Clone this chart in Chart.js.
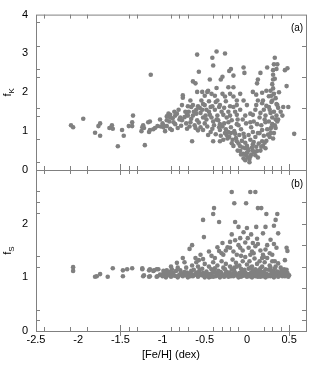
<!DOCTYPE html>
<html>
<head>
<meta charset="utf-8">
<script src="https://cdn.jsdelivr.net/npm/chart.js@4.4.1/dist/chart.umd.min.js"></script>
<style>
  html, body { margin: 0; padding: 0; background: #fff; }
  #wrap { position: relative; width: 311px; height: 366px; }
  canvas { position: absolute; left: 0; top: 0; }
</style>
</head>
<body>
<div id="wrap">
  <canvas id="chartA" width="311" height="366"></canvas>
  <canvas id="chartB" width="311" height="366"></canvas>
</div>
<script>
/************ DATA ************/
// panel (a): [Fe/H], f_K
const pointsA = [
  [-2.085,1.15],[-2.06,1.10],[-1.94,1.32],[-1.80,0.96],[-1.76,1.13],[-1.74,1.20],[-1.74,0.88],
  [-1.63,1.08],[-1.60,1.15],[-1.59,1.06],[-1.53,0.61],[-1.48,1.03],[-1.46,0.88],[-1.40,1.13],
  [-1.36,1.23],[-1.35,1.40],[-1.36,1.13],[-1.25,1.00],[-1.23,1.15],[-1.22,1.08],[-1.21,0.64],
  [-1.15,1.25],[-1.16,0.98],[-1.14,2.45],[-1.11,1.05],[-1.09,1.08],[-1.06,1.13],
  [-1.24,1.10],[-1.17,1.23],[-1.15,1.03],[-0.99,1.15],[-0.95,1.13],[-0.91,1.35],[-0.89,1.03],[-0.93,1.45],
  [-0.59,2.97],[-0.36,3.05],[-0.41,2.89],[-0.26,3.00],[-0.40,2.69],[-0.57,2.53],[-0.19,2.60],
  [-0.21,2.55],[-0.04,2.64],[-0.03,2.50],[0.33,2.89],[0.32,2.72],[0.36,2.72],[0.24,2.64],
  [0.48,2.62],[0.45,2.57],[0.31,2.57],[0.16,2.50],[0.31,2.45],[-0.64,2.28],[-0.61,2.23],
  [-0.44,2.33],[-0.31,2.33],[-0.29,2.40],[-0.16,2.43],[0.13,2.33],[0.12,2.23],[0.31,2.33],
  [0.30,2.21],[0.47,2.16],[-0.46,2.04],[-0.36,2.11],[-0.22,2.13],[-0.16,2.13],
  [-0.76,1.92],[-0.59,2.01],[-0.53,2.01],[-0.47,2.01],[-0.50,1.91],[-0.42,1.96],[-0.38,1.91],
  [-0.29,1.96],[-0.26,1.89],[-0.20,1.96],[-0.16,1.89],[-0.08,1.96],[0.07,2.01],[0.11,1.94],
  [0.18,1.99],[0.23,2.04],[0.28,2.04],[0.29,1.91],[0.32,1.96],
  [-0.76,1.86],[-0.67,1.79],[-0.54,1.79],[-0.45,1.77],[-0.35,1.79],[-0.25,1.77],[-0.12,1.79],
  [-0.04,1.79],[0.13,1.79],[0.19,1.79],[0.30,1.79],
  [-0.77,1.67],[-0.70,1.64],[-0.64,1.67],[-0.58,1.64],[-0.50,1.67],[-0.41,1.64],[-0.32,1.67],
  [-0.20,1.64],[-0.12,1.67],[0.00,1.67],[0.11,1.67],[0.18,1.72],[0.26,1.62],[0.36,1.67],
  [0.43,1.62],[0.49,1.62],
  [-0.91,1.42],[-0.85,1.40],[-0.79,1.35],[-0.71,1.42],[-0.64,1.40],[-0.55,1.47],[-0.52,1.35],
  [-0.44,1.42],[-0.35,1.40],[-0.28,1.42],[-0.20,1.40],[-0.12,1.42],[-0.02,1.40],[0.07,1.42],
  [0.16,1.47],[0.22,1.40],[0.28,1.47],[0.35,1.40],[0.37,1.30],
  [-1.03,1.30],[-0.95,1.28],[-0.87,1.23],[-0.77,1.28],[-0.67,1.23],[-0.59,1.28],[-0.50,1.20],
  [-0.40,1.25],[-0.32,1.18],[-0.22,1.23],[-0.12,1.18],[0.04,1.23],[0.12,1.18],[0.22,1.23],
  [0.30,1.18],[0.56,0.93],
  [-0.99,1.10],[-0.91,1.06],[-0.82,1.08],[-0.71,1.06],[-0.61,1.08],[-0.52,1.03],[-0.41,1.06],
  [-0.32,1.03],[-0.22,0.98],[-0.14,0.93],[-0.04,0.93],[0.07,0.98],[0.18,1.03],[0.28,1.06],[0.34,1.08],
  [-0.65,0.74],[-0.40,0.74],[-0.32,0.74],[-0.23,0.81],[-0.18,0.69],[-0.12,0.74],[-0.08,0.61],
  [-0.02,0.56],[0.00,0.44],[0.01,0.32],[0.03,0.20],[-0.04,0.42],[-0.08,0.49],[0.07,0.66],
  [0.12,0.49],[0.13,0.32],[0.18,0.74],[0.04,0.78],[0.22,0.56],[0.25,0.91],[0.31,0.81],
  [-0.95,1.38],[-0.88,1.33],[-0.83,1.45],[-0.80,1.30],[-0.74,1.36],[-0.72,1.20],[-0.69,1.50],
  [-0.66,1.32],[-0.62,1.15],[-0.60,1.45],[-0.57,1.22],[-0.55,1.10],[-0.53,1.55],[-0.48,1.30],
  [-0.47,1.12],[-0.45,1.50],[-0.43,0.98],[-0.42,1.35],[-0.39,1.15],[-0.38,1.55],[-0.37,0.92],
  [-0.34,1.28],[-0.33,1.10],[-0.31,0.88],[-0.30,1.50],[-0.27,1.20],[-0.26,0.95],[-0.25,1.05],
  [-0.24,1.35],[-0.21,0.85],[-0.19,1.10],[-0.18,1.28],[-0.17,0.78],[-0.15,1.00],[-0.14,1.50],
  [-0.13,0.82],[-0.11,1.30],[-0.10,0.68],[-0.09,0.90],[-0.07,1.05],[-0.06,0.75],[-0.05,0.58],
  [-0.03,0.85],[-0.02,0.70],[-0.01,0.38],[0.00,0.62],[0.02,0.50],[0.02,0.90],[0.03,0.28],
  [0.05,0.40],[0.05,1.10],[0.06,0.58],[0.08,0.72],[0.09,0.45],[0.10,0.85],[0.11,0.60],
  [0.14,0.68],[0.15,0.95],[0.16,0.50],[0.17,1.15],[0.19,0.62],[0.20,0.88],[0.21,1.30],
  [0.23,0.75],[0.24,1.05],[0.26,1.25],[0.27,1.55],[0.28,0.95],[0.29,1.75],[0.30,1.35],
  [0.31,2.10],[0.32,1.50],[0.33,1.15],[0.33,2.35],[0.34,1.85],[0.35,2.60],[0.36,1.25],
  [0.37,1.60],[0.38,2.00],[0.40,1.50],[0.42,1.40],[0.26,1.90],[0.23,1.65],[0.20,1.55],
  [0.15,1.35],[0.10,1.55],[0.08,1.25],[0.04,1.45],[-0.01,1.20],[-0.05,1.30],[-0.08,1.55],
  [-0.10,1.15],[-0.16,1.62],[-0.22,1.50],[-0.27,1.60],[-0.33,1.62],[-0.37,1.75],[-0.43,1.62],
  [-0.48,1.55],[-0.52,1.70],[-0.56,1.60],[-0.60,1.55],[-0.63,1.50],[-0.66,1.62],[-0.70,1.40],
  [-0.73,1.50],[-0.81,1.55],[-0.86,1.50],[-0.92,1.25],[-1.00,1.20],[-0.97,1.00],[-1.02,1.12],
  [-0.85,1.18],[-0.78,1.14],[-0.68,1.12],[-0.58,1.02],[-0.49,1.40],[-0.46,0.90],[-0.36,1.30],
  [-0.29,1.12],[-0.28,0.78],[-0.24,0.90],[-0.19,0.95],[-0.16,0.62],[-0.11,0.50],[-0.07,0.40],
  [-0.04,0.30],[-0.02,0.25],[0.01,0.55],[0.04,0.35],[0.07,0.50],[0.10,0.38],[0.13,0.95],
  [0.17,0.60],[0.21,0.70],[0.27,0.85],[0.29,1.10],[0.32,0.95],[0.34,1.30],[0.35,1.70]
];

// panel (b): [Fe/H], f_S
const pointsB = [
  [-2.06,1.19],[-2.06,1.12],[-1.80,1.01],[-1.78,1.02],[-1.74,1.06],[-1.65,1.01],[-1.59,1.17],
  [-1.47,1.02],[-1.47,1.13],[-1.42,1.15],[-1.36,1.17],[-1.24,1.15],[-1.23,1.02],[-1.16,1.13],
  [-1.15,1.02],[-1.11,1.12],[-1.07,1.15],[-1.07,1.01],
  [-0.18,2.59],[0.04,2.59],[0.10,2.59],[-0.15,2.38],[-0.01,2.38],[0.13,2.29],[0.17,2.29],
  [-0.39,2.29],[-0.40,2.18],[0.23,2.18],[0.36,2.18],[-0.52,2.07],[-0.33,2.03],[-0.14,2.03],
  [0.34,2.07],[-0.10,1.94],[0.00,1.92],[0.11,1.94],[0.22,1.94],[0.32,1.96],[-0.04,1.84],
  [0.37,1.82],[-0.51,1.75],[-0.08,1.73],[0.01,1.73],[0.19,1.82],[-0.20,1.66],[-0.14,1.69],
  [-0.29,1.64],[0.07,1.64],[0.13,1.62],[0.24,1.60],[0.32,1.62],[-0.65,1.60],[-0.68,1.53],
  [-0.35,1.56],[-0.23,1.56],[-0.08,1.55],[0.47,1.55],[0.48,1.49],[-0.76,1.36],[-0.28,1.42],
  [-0.12,1.42],[0.04,1.42],[0.19,1.42],[0.30,1.42],[0.45,1.32],
  [-0.74,1.28],[-0.83,1.27],[-0.61,1.36],[-0.57,1.32],[-0.52,1.34],[-0.42,1.40],[-0.38,1.36],
  [-0.33,1.49],[0.18,1.36],[0.33,1.30],[0.44,1.15],
  [-1.24,1.17],[-1.15,1.15],[-1.10,1.13],[-1.05,1.15],[-0.99,1.12],[-0.95,1.10],[-0.89,1.15],
  [-1.22,1.04],[-1.16,1.01],[-1.06,1.02],
  [-1.03,1.05],[-1.00,1.02],[-0.98,1.08],[-0.96,1.00],[-0.94,1.04],[-0.92,1.10],[-0.90,1.01],
  [-0.88,1.06],[-0.86,1.03],[-0.84,1.12],[-0.82,1.00],[-0.80,1.05],[-0.78,1.08],[-0.76,1.02],
  [-0.74,1.10],[-0.72,1.04],[-0.70,1.00],[-0.68,1.07],[-0.66,1.12],[-0.64,1.02],[-0.62,1.05],
  [-0.60,1.09],[-0.58,1.01],[-0.56,1.14],[-0.54,1.04],[-0.52,1.08],[-0.50,1.00],[-0.48,1.11],
  [-0.46,1.03],[-0.44,1.06],[-0.42,1.15],[-0.40,1.01],[-0.38,1.09],[-0.36,1.04],[-0.34,1.12],
  [-0.32,1.00],[-0.30,1.07],[-0.28,1.18],[-0.26,1.03],[-0.24,1.10],[-0.22,1.01],[-0.20,1.06],
  [-0.18,1.14],[-0.16,1.02],[-0.14,1.08],[-0.12,1.20],[-0.10,1.00],[-0.08,1.05],[-0.06,1.12],
  [-0.04,1.03],[-0.02,1.09],[0.00,1.01],[0.02,1.16],[0.04,1.04],[0.06,1.00],[0.08,1.10],
  [0.10,1.02],[0.12,1.07],[0.14,1.13],[0.16,1.01],[0.18,1.05],[0.20,1.10],[0.22,1.00],
  [0.24,1.04],[0.26,1.14],[0.28,1.02],[0.30,1.08],[0.32,1.00],[0.34,1.05],[0.36,1.11],
  [0.38,1.03],[0.40,1.07],[0.42,1.02],[0.44,1.10],[0.46,1.05],[0.48,1.08],[0.50,1.04],[0.47,1.14],
  [-0.99,1.07],[-0.95,1.13],[-0.91,1.04],[-0.87,1.09],[-0.83,1.02],[-0.79,1.13],[-0.75,1.05],
  [-0.71,1.09],[-0.67,1.02],[-0.63,1.14],[-0.59,1.04],[-0.55,1.07],[-0.51,1.03],[-0.47,1.06],
  [-0.43,1.01],[-0.39,1.13],[-0.35,1.07],[-0.31,1.10],[-0.27,1.01],[-0.23,1.05],[-0.19,1.02],
  [-0.15,1.12],[-0.11,1.05],[-0.07,1.01],[-0.03,1.14],[0.01,1.06],[0.05,1.09],[0.09,1.05],
  [0.13,1.01],[0.17,1.10],[0.21,1.05],[0.25,1.02],[0.29,1.12],[0.33,1.08],[0.37,1.01],
  [0.41,1.12],[0.45,1.02],
  [-0.45,1.00],[-0.33,1.03],[-0.25,1.08],[-0.13,1.04],[-0.05,1.07],[0.03,1.02],[0.07,1.13],
  [0.11,1.08],[0.15,1.04],[0.19,1.02],[0.23,1.07],[0.27,1.05],[0.31,1.03],[0.35,1.09],[0.39,1.05],
  [-0.72,1.18],[-0.65,1.22],[-0.58,1.20],[-0.50,1.25],[-0.45,1.20],[-0.40,1.28],[-0.35,1.22],
  [-0.30,1.30],[-0.25,1.25],[-0.20,1.20],[-0.17,1.33],[-0.13,1.27],[-0.09,1.22],[-0.05,1.30],
  [-0.02,1.38],[0.00,1.24],[0.03,1.30],[0.06,1.20],[0.09,1.35],[0.12,1.25],[0.15,1.30],
  [0.18,1.20],[0.21,1.28],[0.24,1.36],[0.27,1.22],[0.30,1.30],[0.34,1.20],[0.37,1.26],
  [0.40,1.18],[-0.60,1.28],[-0.82,1.18],[-0.90,1.20],
  [-0.25,1.50],[-0.20,1.55],[-0.16,1.48],[-0.10,1.60],[-0.05,1.50],[0.02,1.55],[0.06,1.48],
  [0.10,1.58],[0.16,1.50],[0.22,1.52],[0.27,1.45],[0.35,1.55],[-0.30,1.45],[-0.45,1.48],
  [-0.55,1.42],[0.12,1.72],[-0.02,1.65],[0.28,1.70],[-0.18,1.80],[0.05,1.80],
  [-0.97,1.04],[-0.89,1.08],[-0.81,1.03],[-0.73,1.07],[-0.65,1.05],[-0.57,1.10],[-0.49,1.05],
  [-0.41,1.08],[-0.37,1.02],[-0.29,1.04],[-0.21,1.09],[-0.17,1.06],[-0.09,1.08],[-0.01,1.04],
  [0.07,1.06],[0.15,1.09],[0.23,1.03],[0.31,1.11],[0.39,1.09],[0.43,1.06],[0.49,1.01],
  [-0.15,1.18],[-0.07,1.16],[0.04,1.18],[0.10,1.15],[0.16,1.17],[0.22,1.15],[0.28,1.18],
  [0.33,1.16],[-0.26,1.15],[-0.38,1.17],[-0.53,1.16],[0.08,1.45],[0.20,1.38],[-0.07,1.40]
];

/************ AXES ************/
const xTickLabels = [-2.5, -2, -1.5, -1, -0.5, 0, 0.5];
const yTickLabelsA = [0, 1, 2, 3, 4];
const yTickLabelsB = [0, 1, 2];

// small inward tick marks on the frames
const xMinorTicks = [-2.4, -2.1, -1.9, -1.4, -1.3, -0.9, -0.8, -0.7, -0.4, -0.3, -0.2, -0.1, 0.2, 0.3, 0.4];
const xLongTicks = [-1.5, 0.5];
const yTicksLeftA = [0.2, 0.8, 1.4, 1.6, 2.4, 2.6, 3.2, 3.8];
const yTicksRightA = [0.8, 1.6, 2.4, 3.2];
const yTicksLeftB = [0.2, 0.4, 1.2, 1.4, 2.2, 2.4, 2.6];
const yTicksRightB = [0.2, 0.4, 0.8, 1.2, 1.6, 2.0, 2.4];

const FONT = '"Liberation Sans", Arial, sans-serif';
const GREY = '#808080';

/************ FRAME PLUGIN ************/
const framePlugin = {
  id: 'frame',
  afterDraw(chart, args, o) {
    const { ctx, chartArea: a } = chart;
    const x = chart.scales.x, y = chart.scales.y;
    ctx.save();
    ctx.strokeStyle = GREY;
    ctx.lineWidth = 1;
    ctx.strokeRect(a.left + 0.5, a.top + 0.5, a.width, a.height);

    ctx.beginPath();
    xMinorTicks.forEach(v => {
      const px = Math.round(x.getPixelForValue(v)) + 0.5;
      ctx.moveTo(px, a.bottom); ctx.lineTo(px, a.bottom - 4);
      ctx.moveTo(px, a.top); ctx.lineTo(px, a.top + 4);
    });
    xLongTicks.forEach(v => {
      const px = Math.round(x.getPixelForValue(v)) + 0.5;
      ctx.moveTo(px, a.bottom + 5); ctx.lineTo(px, a.bottom - 6);
    });
    o.left.forEach(v => {
      const py = Math.round(y.getPixelForValue(v)) + 0.5;
      ctx.moveTo(a.left, py); ctx.lineTo(a.left + 4, py);
    });
    o.right.forEach(v => {
      const py = Math.round(y.getPixelForValue(v)) + 0.5;
      ctx.moveTo(a.right, py); ctx.lineTo(a.right - 4, py);
    });
    ctx.stroke();

    // panel tag
    ctx.fillStyle = '#000';
    ctx.font = '10px ' + FONT;
    ctx.textAlign = 'center';
    ctx.textBaseline = 'middle';
    ctx.fillText(o.tag, a.right - 9, a.top + 14);

    // rotated y title with subscript
    ctx.translate(9, (a.top + a.bottom) / 2);
    ctx.rotate(-Math.PI / 2);
    ctx.font = '11px ' + FONT;
    const w1 = ctx.measureText(o.main).width;
    ctx.font = '8px ' + FONT;
    const w2 = ctx.measureText(o.sub).width;
    const start = -(w1 + w2) / 2;
    ctx.textAlign = 'left';
    ctx.font = '11px ' + FONT;
    ctx.fillText(o.main, start, -1);
    ctx.font = '8px ' + FONT;
    ctx.fillText(o.sub, start + w1, 3);
    ctx.restore();
  }
};

/************ CHART SETUP ************/
function makeChart(id, points, yMax, yLabels, padTop, padBottom, showX, frameOpts) {
  return new Chart(document.getElementById(id), {
    type: 'scatter',
    data: {
      datasets: [{
        data: points.map(p => ({ x: p[0], y: p[1] })),
        backgroundColor: GREY,
        borderWidth: 0,
        pointRadius: 2.3,
        pointHoverRadius: 2.3
      }]
    },
    options: {
      responsive: false,
      animation: false,
      events: [],
      layout: { padding: { top: padTop, bottom: padBottom, left: 0, right: 5 } },
      plugins: { legend: { display: false }, tooltip: { enabled: false }, frame: frameOpts },
      scales: {
        x: {
          type: 'linear',
          min: -2.5,
          max: 0.7,
          display: showX,
          grid: { display: false, drawTicks: false },
          border: { display: false },
          afterBuildTicks: s => { s.ticks = xTickLabels.map(v => ({ value: v })); },
          afterFit: s => { if (showX) s.height = 35; },
          ticks: {
            padding: 2,
            color: '#000',
            font: { family: FONT, size: 11 },
            maxRotation: 0,
            callback: v => String(v)
          },
          title: {
            display: showX,
            text: '[Fe/H] (dex)',
            color: '#000',
            font: { family: FONT, size: 11 },
            padding: { top: 0, bottom: 4 }
          }
        },
        y: {
          type: 'linear',
          min: 0,
          max: yMax,
          grid: { display: false, drawTicks: false },
          border: { display: false },
          afterBuildTicks: s => { s.ticks = yLabels.map(v => ({ value: v })); },
          afterFit: s => { s.width = 36; },
          ticks: {
            padding: 8,
            color: '#000',
            font: { family: FONT, size: 11 },
            callback: v => String(v)
          }
        }
      }
    },
    plugins: [framePlugin]
  });
}

makeChart('chartA', pointsA, 4, yTickLabelsA, 7, 196, false,
  { left: yTicksLeftA, right: yTicksRightA, tag: '(a)', main: 'f', sub: 'K' });
makeChart('chartB', pointsB, 3, yTickLabelsB, 170, 0, true,
  { left: yTicksLeftB, right: yTicksRightB, tag: '(b)', main: 'f', sub: 'S' });
</script>
</body>
</html>
